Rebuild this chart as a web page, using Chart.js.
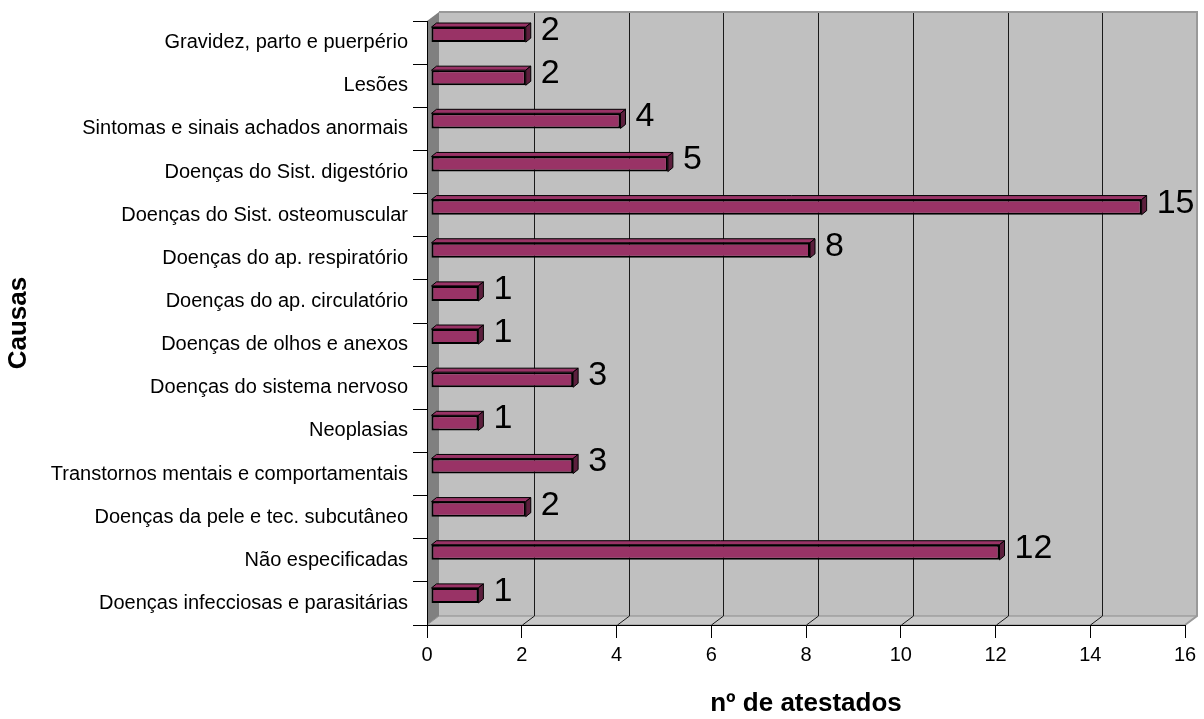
<!DOCTYPE html>
<html lang="pt-BR">
<head>
<meta charset="utf-8">
<title>Atestados por causa</title>
<script src="https://cdn.jsdelivr.net/npm/chart.js@4.4.1/dist/chart.umd.min.js"></script>
<style>
    html, body { margin: 0; padding: 0; background: #ffffff; }
    #wrap { width: 1204px; height: 719px; }
</style>
</head>
<body>
<div id="wrap"><canvas id="causasChart" width="1204" height="719"></canvas></div>
<script>
// Causas (de cima para baixo) e número de atestados
const causas = [
    'Gravidez, parto e puerpério',
    'Lesões',
    'Sintomas e sinais achados anormais',
    'Doenças do Sist. digestório',
    'Doenças do Sist. osteomuscular',
    'Doenças do ap. respiratório',
    'Doenças do ap. circulatório',
    'Doenças de olhos e anexos',
    'Doenças do sistema nervoso',
    'Neoplasias',
    'Transtornos mentais e comportamentais',
    'Doenças da pele e tec. subcutâneo',
    'Não especificadas',
    'Doenças infecciosas e parasitárias'
];
const atestados = [2, 2, 4, 5, 15, 8, 1, 1, 3, 1, 3, 2, 12, 1];

// eixo x: 0, 2, 4 ... 16
const eixoMin = 0;
const eixoMax = 16;
const eixoPasso = 2;

const FONTE = '"Liberation Sans", Arial, sans-serif';
const PROF = { dx: 12, dy: 9 };      // profundidade das paredes
const BARRA = { dx: 4, dy: -8, d: 5 }; // deslocamento e espessura das barras

Chart.defaults.font.family = FONTE;
Chart.defaults.color = '#000';

// paredes cinzas e linhas de grade no fundo
const paredes = {
    id: 'paredes',
    beforeDraw(chart) {
        const { ctx, chartArea: a, scales } = chart;
        const { dx, dy } = PROF;
        ctx.save();

        // fundo
        ctx.fillStyle = '#c0c0c0';
        ctx.fillRect(a.left + dx, a.top - dy, a.right - a.left, a.bottom - a.top);

        // parede lateral
        ctx.beginPath();
        ctx.moveTo(a.left, a.top);
        ctx.lineTo(a.left + dx, a.top - dy);
        ctx.lineTo(a.left + dx, a.bottom - dy);
        ctx.lineTo(a.left, a.bottom);
        ctx.closePath();
        ctx.fillStyle = '#808080';
        ctx.fill();

        // piso
        ctx.beginPath();
        ctx.moveTo(a.left, a.bottom);
        ctx.lineTo(a.left + dx, a.bottom - dy);
        ctx.lineTo(a.right + dx, a.bottom - dy);
        ctx.lineTo(a.right, a.bottom);
        ctx.closePath();
        ctx.fillStyle = '#c8c8c8';
        ctx.fill();
        ctx.strokeStyle = '#8c8c8c';
        ctx.lineWidth = 1;
        ctx.stroke();

        // grade vertical
        const x = scales.x;
        ctx.strokeStyle = '#1a1a1a';
        ctx.lineWidth = 1;
        x.ticks.forEach((t, i) => {
            if (i === 0 || i === x.ticks.length - 1) return;
            const px = Math.round(x.getPixelForValue(t.value)) + 0.5;
            ctx.beginPath();
            ctx.moveTo(px + dx, a.top - dy);
            ctx.lineTo(px + dx, a.bottom - dy);
            ctx.lineTo(px, a.bottom);
            ctx.stroke();
        });

        // contorno do fundo
        ctx.strokeStyle = '#999999';
        ctx.lineWidth = 2;
        ctx.beginPath();
        ctx.moveTo(a.left + dx, a.top - dy);
        ctx.lineTo(a.right + dx, a.top - dy);
        ctx.lineTo(a.right + dx, a.bottom - dy);
        ctx.lineTo(a.right, a.bottom);
        ctx.stroke();
        ctx.restore();
    }
};

// barras em 3D: deslocadas para dentro, com topo, lateral e rótulo
const barras3d = {
    id: 'barras3d',
    beforeDatasetsDraw(chart) {
        chart.ctx.save();
        chart.ctx.translate(BARRA.dx, BARRA.dy);
    },
    afterDatasetsDraw(chart) {
        const ctx = chart.ctx;
        const d = BARRA.d;
        const meta = chart.getDatasetMeta(0);
        meta.data.forEach((bar, i) => {
            const { x, y, base, height } = bar.getProps(['x', 'y', 'base', 'height'], true);
            const top = y - height / 2;
            const bot = y + height / 2;
            ctx.lineWidth = 1;
            ctx.strokeStyle = '#000';

            ctx.beginPath();
            ctx.moveTo(base, top);
            ctx.lineTo(base + d, top - d * 0.8);
            ctx.lineTo(x + d, top - d * 0.8);
            ctx.lineTo(x, top);
            ctx.closePath();
            ctx.fillStyle = '#993366';
            ctx.fill();
            ctx.stroke();

            ctx.beginPath();
            ctx.moveTo(x, top);
            ctx.lineTo(x + d, top - d * 0.8);
            ctx.lineTo(x + d, bot - d * 0.8);
            ctx.lineTo(x, bot);
            ctx.closePath();
            ctx.fillStyle = '#5c1f3d';
            ctx.fill();
            ctx.stroke();

            ctx.fillStyle = '#000';
            ctx.font = '34px ' + FONTE;
            ctx.textAlign = 'left';
            ctx.textBaseline = 'middle';
            ctx.fillText(String(atestados[i]), x + d + 10, y - 4);
        });
        ctx.restore();
    }
};

const ctx = document.getElementById('causasChart').getContext('2d');
new Chart(ctx, {
    type: 'bar',
    data: {
        labels: causas,
        datasets: [{
            label: 'nº de atestados',
            data: atestados,
            backgroundColor: '#993366',
            borderColor: '#000',
            borderWidth: 2,
            borderSkipped: false,
            barPercentage: 0.35,
            categoryPercentage: 1
        }]
    },
    options: {
        indexAxis: 'y',
        responsive: false,
        animation: false,
        devicePixelRatio: 1,
        layout: { padding: { top: 21, right: 19, left: 0, bottom: 0 } },
        plugins: {
            legend: { display: false },
            tooltip: { enabled: false }
        },
        scales: {
            x: {
                min: eixoMin,
                max: eixoMax,
                afterFit: (scale) => { scale.height = 94; },
                ticks: { stepSize: eixoPasso, padding: 5, font: { size: 20 }, maxRotation: 0 },
                grid: { drawOnChartArea: false, drawTicks: true, tickLength: 13, color: '#000' },
                border: { color: '#000', width: 1 },
                title: {
                    display: true,
                    text: 'nº de atestados',
                    font: { size: 26, weight: 'bold' },
                    padding: { top: 0, bottom: 0 }
                }
            },
            y: {
                afterFit: (scale) => { scale.width = 427; },
                ticks: { padding: 5, font: { size: 20 }, autoSkip: false },
                grid: { drawOnChartArea: false, drawTicks: true, tickLength: 14, color: '#000', offset: true },
                border: { color: '#000', width: 1 },
                title: {
                    display: true,
                    text: 'Causas',
                    font: { size: 26, weight: 'bold' },
                    padding: { top: 3, bottom: 0 }
                }
            }
        }
    },
    plugins: [paredes, barras3d]
});
</script>
</body>
</html>
